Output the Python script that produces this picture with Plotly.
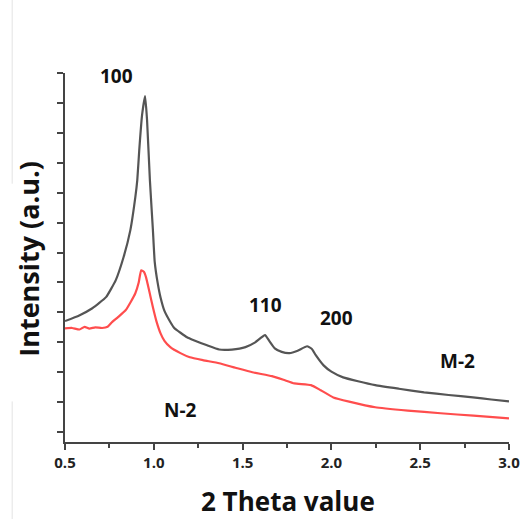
import plotly.graph_objects as go

# M-2 (grey) curve: 2 Theta vs intensity (a.u.)
m2_theta = [0.50, 0.58, 0.654, 0.731, 0.786, 0.830, 0.868, 0.896, 0.907, 0.918, 0.934, 0.951,
            0.962, 0.978, 0.995, 1.005, 1.022, 1.038, 1.060, 1.093, 1.115, 1.187, 1.225,
            1.30, 1.368, 1.44, 1.516, 1.571, 1.626, 1.65, 1.681, 1.72, 1.764, 1.81, 1.863,
            1.89, 1.912, 1.956, 2.00, 2.066, 2.15, 2.247, 2.38, 2.522, 2.66, 2.797, 2.90, 3.00]
m2_int = [3.71, 3.90, 4.14, 4.51, 5.08, 5.85, 6.75, 7.85, 8.42, 9.42, 10.60, 11.23,
          10.43, 8.42, 6.75, 5.70, 4.98, 4.50, 4.05, 3.68, 3.48, 3.17, 3.07,
          2.90, 2.76, 2.76, 2.84, 3.00, 3.24, 3.05, 2.80, 2.68, 2.64, 2.72, 2.87,
          2.78, 2.57, 2.23, 2.02, 1.83, 1.70, 1.57, 1.45, 1.33, 1.24, 1.16, 1.09, 1.03]

# N-2 (red) curve
n2_theta = [0.50, 0.54, 0.582, 0.61, 0.637, 0.67, 0.709, 0.74, 0.764, 0.80, 0.841, 0.87,
            0.896, 0.915, 0.929, 0.945, 0.956, 0.975, 0.995, 1.015, 1.038, 1.06, 1.093,
            1.15, 1.203, 1.28, 1.368, 1.46, 1.555, 1.665, 1.73, 1.791, 1.885, 1.94, 2.011,
            2.10, 2.247, 2.43, 2.615, 2.80, 3.00]
n2_int = [3.47, 3.48, 3.43, 3.52, 3.46, 3.50, 3.48, 3.52, 3.67, 3.85, 4.07, 4.35,
          4.64, 5.0, 5.41, 5.35, 5.18, 4.7, 4.17, 3.70, 3.30, 3.05, 2.84,
          2.64, 2.50, 2.40, 2.30, 2.15, 2.00, 1.87, 1.75, 1.63, 1.57, 1.40, 1.16,
          1.02, 0.83, 0.72, 0.63, 0.55, 0.46]

peak_labels = ["100", "110", "200", "M-2", "N-2"]
label_theta = [0.79, 1.63, 2.03, 2.71, 1.15]
label_int = [11.9, 4.24, 3.80, 2.37, 0.73]

fig = go.Figure()
fig.add_trace(go.Scatter(x=m2_theta, y=m2_int, mode="lines",
                         line=dict(color="#555555", width=2.2, shape="spline", smoothing=0.4),
                         showlegend=False))
fig.add_trace(go.Scatter(x=n2_theta, y=n2_int, mode="lines",
                         line=dict(color="#ff4d4d", width=2.2, shape="spline", smoothing=0.4),
                         showlegend=False))

for t, xv, yv in zip(peak_labels, label_theta, label_int):
    fig.add_annotation(x=xv, y=yv, text=t, showarrow=False,
                       font=dict(family="Open Sans", size=19, color="#111111", weight="bold"))

fig.add_annotation(xref="paper", yref="paper", x=-0.083, y=0.497, text="Intensity (a.u.)",
                   textangle=-90, showarrow=False, xanchor="center", yanchor="middle",
                   font=dict(family="Open Sans", size=27, color="#111111", weight="bold"))
fig.add_annotation(xref="paper", yref="paper", x=0.503, y=-0.160, text="2 Theta value",
                   showarrow=False, xanchor="center", yanchor="middle",
                   font=dict(family="Open Sans", size=26, color="#111111", weight="bold"))

# faint left border artefact
fig.add_shape(type="line", xref="paper", yref="paper", x0=-0.119, x1=-0.119, y0=1.2, y1=0.70,
              line=dict(color="#e3e3e3", width=1))
fig.add_shape(type="line", xref="paper", yref="paper", x0=-0.119, x1=-0.119, y0=0.11, y1=-0.21,
              line=dict(color="#e3e3e3", width=1))

fig.update_layout(
    width=532, height=519,
    margin=dict(l=65, r=12, t=73, b=77),
    paper_bgcolor="white", plot_bgcolor="white",
    xaxis=dict(range=[0.5, 3.0], tickmode="linear", tick0=0.5, dtick=0.5, tickformat=".1f",
               showline=True, linecolor="#444444", linewidth=2, ticks="outside",
               ticklen=6, tickwidth=2, tickcolor="#444444", showgrid=False, zeroline=False,
               tickfont=dict(family="Open Sans", size=15, color="#222222", weight="bold"),
               minor=dict(dtick=0.25, ticks="outside", ticklen=4, tickwidth=2,
                          tickcolor="#444444", showgrid=False)),
    yaxis=dict(range=[-0.33, 12], tickmode="linear", tick0=0, dtick=1,
               showline=True, linecolor="#444444", linewidth=2, ticks="outside",
               ticklen=6, tickwidth=2, tickcolor="#444444", showgrid=False, zeroline=False,
               showticklabels=False),
)

fig.write_html("out.html")
